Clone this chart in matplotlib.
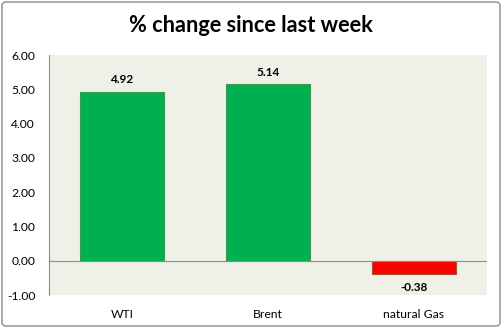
import matplotlib.pyplot as plt
from matplotlib.patches import FancyBboxPatch

categories = ["WTI", "Brent", "natural Gas"]
values = [4.92, 5.14, -0.38]
colors = ["#00B050", "#00B050", "#FF0000"]
edges = ["#3C9A4E", "#3C9A4E", "#A0522D"]

plt.rcParams['font.family'] = ['Lato', 'DejaVu Sans']

fig = plt.figure(figsize=(5.02, 3.28), dpi=100)
fig.patches.append(FancyBboxPatch((0.004, 0.006), 0.992, 0.988,
                                  boxstyle="round,pad=0,rounding_size=0.01",
                                  transform=fig.transFigure, fill=False,
                                  edgecolor="#8C8C8C", linewidth=1.0))
ax = fig.add_axes([49 / 502, 1 - 295 / 328, 438 / 502, 240 / 328])
ax.set_facecolor("#EFF1E8")

x = range(len(categories))
bars = ax.bar(x, values, width=0.575, color=colors, edgecolor=edges, linewidth=0.8, zorder=2)
ax.axhline(0, color="#8C8C8C", linewidth=0.8, zorder=3)

for b, v in zip(bars, values):
    cx = b.get_x() + b.get_width() / 2
    if v >= 0:
        ax.text(cx, v + 0.2, f"{v:.2f}", ha="center", va="bottom", fontsize=8.5, fontweight="bold")
    else:
        ax.text(cx, v - 0.25, f"{v:.2f}", ha="center", va="top", fontsize=8.5, fontweight="bold")

ax.set_xlim(-0.5, 2.5)
ax.set_ylim(-1, 6)
ax.set_yticks(range(-1, 7))
ax.set_yticklabels([f"{t:.2f}" for t in range(-1, 7)], fontsize=8.7)
ax.set_xticks(list(x))
ax.set_xticklabels(categories, fontsize=8.7)
ax.tick_params(axis="x", length=0, pad=10)
ax.tick_params(axis="y", length=0, pad=10)
for s in ["top", "right", "bottom"]:
    ax.spines[s].set_visible(False)
ax.spines["left"].set_color("#8C8C8C")
ax.spines["left"].set_linewidth(0.8)

fig.text(0.5, 1 - 26 / 328, "% change since last week", ha="center", va="center",
         fontsize=15.7, fontweight="bold")

fig.savefig("out.png", dpi=100)
